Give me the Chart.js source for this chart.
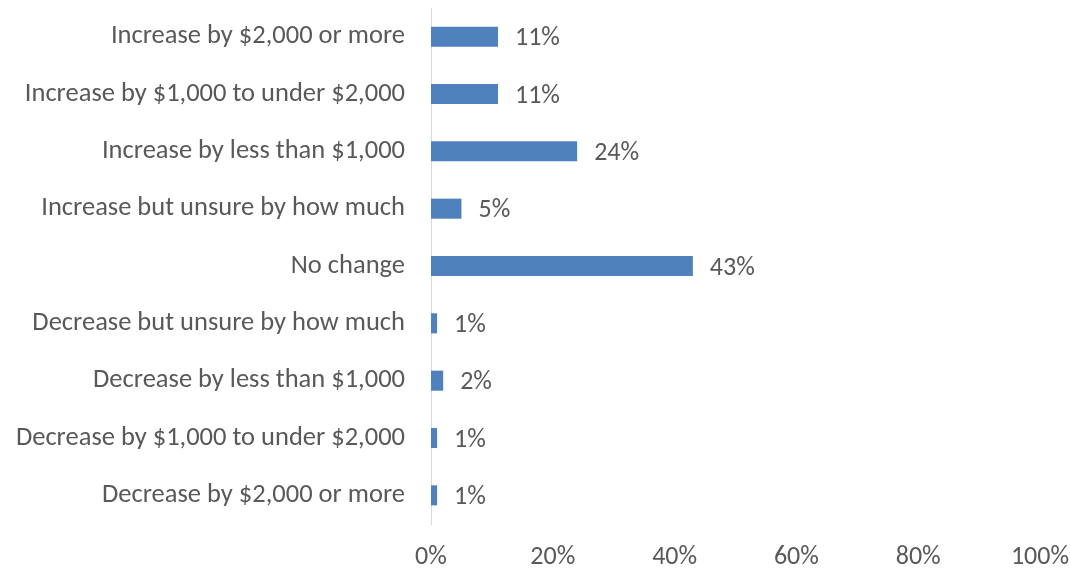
<!DOCTYPE html>
<html>
<head>
<meta charset="utf-8">
<script src="https://cdn.jsdelivr.net/npm/chart.js@4/dist/chart.umd.min.js"></script>
<style>
  html, body { margin: 0; padding: 0; background: #fff; }
  #wrap { width: 1070px; height: 569px; }
</style>
</head>
<body>
<div id="wrap"><canvas id="myChart"></canvas></div>
<script>
// categories top to bottom, as in the picture
const categories = [
    'Increase by $2,000 or more',
    'Increase by $1,000 to under $2,000',
    'Increase by less than $1,000',
    'Increase but unsure by how much',
    'No change',
    'Decrease but unsure by how much',
    'Decrease by less than $1,000',
    'Decrease by $1,000 to under $2,000',
    'Decrease by $2,000 or more',
];
const shares = [11, 11, 24, 5, 43, 1, 2, 1, 1];
const xTicks = [0, 20, 40, 60, 80, 100];

const textGray = '#595959';
const fontFamily = "Carlito, Calibri, Lato, sans-serif";
const fontSize = 26;

// draws "11%" etc to the right of each bar
const barLabels = {
    id: 'barLabels',
    afterDatasetsDraw(chart) {
        const ctx = chart.ctx;
        const meta = chart.getDatasetMeta(0);
        ctx.save();
        ctx.font = fontSize + 'px ' + fontFamily;
        ctx.fillStyle = textGray;
        ctx.textAlign = 'left';
        ctx.textBaseline = 'middle';
        meta.data.forEach(function(bar, i) {
            ctx.fillText(shares[i] + '%', bar.x + 17, bar.y + 2);
        });
        ctx.restore();
    }
};

const config = {
    type: 'bar',
    data: {
        labels: categories,
        datasets: [{
            data: shares,
            backgroundColor: '#4F81BD',
            categoryPercentage: 1,
            barPercentage: 0.35,
        }]
    },
    options: {
        indexAxis: 'y',
        responsive: true,
        maintainAspectRatio: false,
        animation: false,
        layout: { padding: { top: 8, right: 30, bottom: 0, left: 0 } },
        plugins: {
            legend: { display: false },
            tooltip: { enabled: false },
        },
        scales: {
            x: {
                min: 0,
                max: 100,
                afterBuildTicks: function(axis) {
                    axis.ticks = xTicks.map(v => ({ value: v }));
                },
                afterFit: function(axis) {
                    axis.height = 45;
                    axis.paddingLeft = 0;
                    axis.paddingRight = 0;
                },
                grid: { display: false, drawTicks: false },
                border: { display: false },
                ticks: {
                    padding: 18,
                    color: textGray,
                    font: { family: fontFamily, size: fontSize },
                    callback: v => v + '%',
                },
            },
            y: {
                afterFit: function(axis) {
                    axis.width = 431;
                    axis.paddingTop = 0;
                    axis.paddingBottom = 0;
                },
                grid: { display: false, drawTicks: false },
                border: { display: true, color: '#D9D9D9', width: 1 },
                ticks: {
                    padding: 26,
                    color: textGray,
                    font: { family: fontFamily, size: 26.5 },
                },
            },
        },
    },
    plugins: [barLabels],
};

const myChart = new Chart(document.getElementById('myChart'), config);
</script>
</body>
</html>
